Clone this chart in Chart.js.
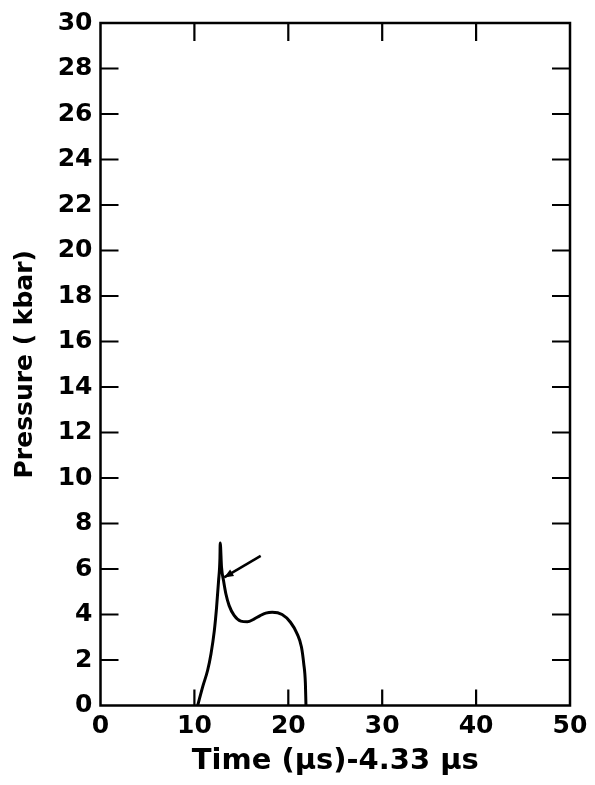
<!DOCTYPE html>
<html>
<head>
<meta charset="utf-8">
<script src="https://cdn.jsdelivr.net/npm/chart.js@4/dist/chart.umd.min.js"></script>
<style>
  html, body { margin: 0; padding: 0; background: #fff; }
  #wrap { width: 595px; height: 785px; }
</style>
</head>
<body>
<div id="wrap"><canvas id="chartPressure" width="595" height="785"></canvas></div>
<script>
// valores
const tempo = [10.35, 10.88, 11.41, 11.77, 12.12, 12.36, 12.57, 12.72, 12.75,
               12.89, 13.10, 13.35, 13.70, 14.23, 14.94, 15.64, 16.35, 17.00,
               17.60, 18.29, 19.34, 20.23, 20.93, 21.40, 21.64, 21.82, 21.88];
const pressao = [0, 0.82, 1.55, 2.28, 3.28, 4.30, 5.46, 6.48, 7.14,
                 6.07, 5.49, 4.91, 4.39, 3.96, 3.71, 3.68, 3.80, 3.95,
                 4.06, 4.10, 4.00, 3.66, 3.16, 2.57, 1.85, 0.97, 0];

const seta = [[17.06, 6.58], [13.17, 5.63]]; // cauda -> ponta (tempo, pressao)

const xTicks = [0, 10, 20, 30, 40, 50];
const yTicks = [0, 2, 4, 6, 8, 10, 12, 14, 16, 18, 20, 22, 24, 26, 28, 30];

const fonte = "'DejaVu Sans', sans-serif";

/* =======================
   MOLDURA + TICKS PARA DENTRO
======================= */
const moldura = {
    id: 'moldura',
    afterDraw(chart) {
        const { ctx, chartArea: a, scales } = chart;
        ctx.save();
        ctx.strokeStyle = '#000';
        ctx.lineWidth = 2.5;
        ctx.strokeRect(a.left, a.top, a.right - a.left, a.bottom - a.top);

        ctx.lineWidth = 2.2;
        ctx.beginPath();
        scales.y.ticks.forEach(t => {
            if (t.value <= 0 || t.value >= 30) return;
            const y = scales.y.getPixelForValue(t.value);
            ctx.moveTo(a.left, y); ctx.lineTo(a.left + 18, y);
            ctx.moveTo(a.right, y); ctx.lineTo(a.right - 18, y);
        });
        scales.x.ticks.forEach(t => {
            if (t.value <= 0 || t.value >= 50) return;
            const x = scales.x.getPixelForValue(t.value);
            ctx.moveTo(x, a.bottom); ctx.lineTo(x, a.bottom - 16);
            ctx.moveTo(x, a.top); ctx.lineTo(x, a.top + 18);
        });
        ctx.stroke();

        // seta
        const x1 = scales.x.getPixelForValue(seta[0][0]);
        const y1 = scales.y.getPixelForValue(seta[0][1]);
        const x2 = scales.x.getPixelForValue(seta[1][0]);
        const y2 = scales.y.getPixelForValue(seta[1][1]);
        ctx.lineWidth = 2.5;
        ctx.beginPath();
        ctx.moveTo(x1, y1); ctx.lineTo(x2, y2);
        ctx.stroke();
        const ang = Math.atan2(y2 - y1, x2 - x1);
        ctx.beginPath();
        ctx.moveTo(x2, y2);
        ctx.lineTo(x2 - 10 * Math.cos(ang - 0.4), y2 - 10 * Math.sin(ang - 0.4));
        ctx.lineTo(x2 - 10 * Math.cos(ang + 0.4), y2 - 10 * Math.sin(ang + 0.4));
        ctx.closePath();
        ctx.fillStyle = '#000';
        ctx.fill();
        ctx.restore();
    }
};

/* =======================
   GRÁFICO
======================= */
const ctx = document.getElementById('chartPressure').getContext('2d');

new Chart(ctx, {
    type: 'scatter',
    data: {
        datasets: [{
            data: tempo.map((t, i) => ({ x: t, y: pressao[i] })),
            showLine: true,
            borderColor: '#000',
            borderWidth: 3,
            pointRadius: 0,
            cubicInterpolationMode: 'monotone',
            fill: false
        }]
    },
    options: {
        responsive: false,
        animation: false,
        layout: { padding: { top: 19.5, right: 25, left: 0, bottom: 0 } },
        plugins: { legend: { display: false }, tooltip: { enabled: false } },
        scales: {
            x: {
                type: 'linear',
                min: 0, max: 50,
                afterBuildTicks: s => { s.ticks = xTicks.map(v => ({ value: v })); },
                afterFit: s => { s.height = 79.5; },
                grid: { display: false, drawTicks: false },
                border: { display: false },
                ticks: { color: '#000', font: { family: fonte, size: 25, weight: 'bold' }, padding: 6, maxRotation: 0 },
                title: {
                    display: true,
                    text: 'Time (μs)-4.33 μs',
                    color: '#000',
                    font: { family: fonte, size: 29, weight: 'bold' },
                    padding: { top: 0, bottom: 6 }
                }
            },
            y: {
                type: 'linear',
                min: 0, max: 30,
                afterBuildTicks: s => { s.ticks = yTicks.map(v => ({ value: v })); },
                afterFit: s => { s.width = 100.5; },
                grid: { display: false, drawTicks: false },
                border: { display: false },
                ticks: { color: '#000', font: { family: fonte, size: 25, weight: 'bold' }, padding: 8 },
                title: {
                    display: true,
                    text: 'Pressure ( kbar)',
                    color: '#000',
                    font: { family: fonte, size: 25, weight: 'bold' },
                    padding: { top: 10, bottom: 0 }
                }
            }
        }
    },
    plugins: [moldura]
});
</script>
</body>
</html>
